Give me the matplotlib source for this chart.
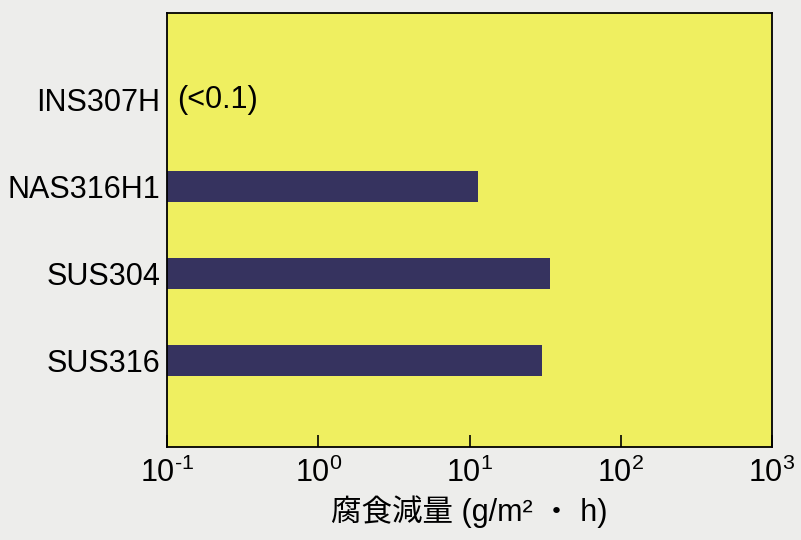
import matplotlib.pyplot as plt

plt.rcParams['font.family'] = ['Liberation Sans', 'Noto Sans CJK JP', 'DejaVu Sans']
plt.rcParams['mathtext.fontset'] = 'custom'
plt.rcParams['mathtext.rm'] = 'Liberation Sans'
plt.rcParams['mathtext.it'] = 'Liberation Sans'
plt.rcParams['mathtext.default'] = 'regular'

# datos
materiales = ['INS307H', 'NAS316H1', 'SUS304', 'SUS316']
perdida = [None, 11.3, 34.2, 30.3]   # g/m2·h, INS307H < 0.1
nota_ins = '(<0.1)'
ticks_x = [0.1, 1, 10, 100, 1000]
etiquetas_x = ['$10^{\u2010 1}$', '$10^{0}$', '$10^{1}$', '$10^{2}$', '$10^{3}$']

fig = plt.figure(figsize=(8.01, 5.40), dpi=100)
fig.patch.set_facecolor('#ededeb')
ax = fig.add_axes([167/801, 1-447/540, (772-167)/801, (447-13)/540])
ax.set_facecolor('#efef60')

x0 = 0.1
for i, v in enumerate(perdida):
    if v is None:
        ax.annotate(nota_ins, (x0, i), xytext=(7, 0), textcoords='offset points',
                    va='center', ha='left', fontsize=22)
        continue
    ax.barh(i, v - x0, left=x0, height=0.36, color='#36335f')

ax.set_xscale('log')
ax.set_xlim(0.1, 1000)
ax.set_ylim(4, -1)
ax.set_yticks(range(len(materiales)))
ax.set_yticklabels(materiales, fontsize=22)
ax.tick_params(axis='y', length=0, pad=5)
ax.set_xticks(ticks_x)
ax.set_xticklabels(etiquetas_x, fontsize=22)
ax.xaxis.set_minor_locator(plt.NullLocator())
ax.tick_params(axis='x', direction='in', length=9, width=1.2, pad=8)
for s in ax.spines.values():
    s.set_linewidth(1.3)
ax.set_xlabel('腐食減量 (g/m² ・ h)', fontsize=22, labelpad=4)

fig.savefig('out.png', dpi=100, facecolor=fig.get_facecolor())
